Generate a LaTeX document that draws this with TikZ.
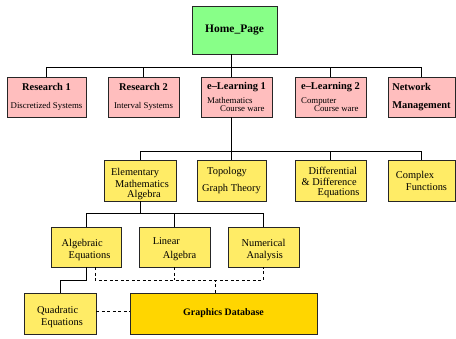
\documentclass[tikz,border=0pt]{standalone}
\usepackage{fontspec}
\setmainfont{Liberation Serif}
\definecolor{homegreen}{RGB}{136,255,136}
\definecolor{respink}{RGB}{255,190,190}
\definecolor{topicyellow}{RGB}{255,236,102}
\definecolor{dbgold}{RGB}{255,214,0}
\tikzset{
  boxnode/.style = {rectangle, draw=black!85, line width=0.8pt, inner sep=0pt, align=left},
  % root node: green box
  box_H/.style = {boxnode, fill=homegreen, minimum width=85pt, minimum height=48pt, font=\fontsize{11.5}{13}\selectfont\bfseries},
  box_R/.style = {boxnode, fill=respink, minimum height=40pt, font=\fontsize{8.8}{9.5}\selectfont},
  box_Y/.style = {boxnode, fill=topicyellow, minimum height=41pt, font=\fontsize{10.4}{12}\selectfont},
  box_D/.style = {boxnode, fill=dbgold, minimum height=41pt, font=\fontsize{9.9}{12}\selectfont\bfseries},
  conn/.style = {draw=black, line width=0.8pt},
  dash_link/.style = {conn, dash pattern=on 3pt off 2.5pt}
}
\newcommand{\ttl}[1]{{\fontsize{10.4}{12}\selectfont\bfseries #1}}
% strut that pushes the text of a box down
\newcommand{\lowby}[1]{\rule{0pt}{#1}}

\begin{document}
\begin{tikzpicture}[x=1pt,y=-1pt]
    \useasboundingbox (0,0) rectangle (456,339);
    % Root node:
    \node [box_H] (home) at (234.5,30) {Home\_Page};
    % Layer 1 - research and e-learning:
    \node [box_R, minimum width=79pt, align=center] (res1) at (46.5,97) {\ttl{Research 1}\\[9pt]Discretized Systems};
    \node [box_R, minimum width=71pt, align=center] (res2) at (143.5,97) {\ttl{Research 2}\\[9pt]Interval Systems};
    \node [box_R, minimum width=71pt] (el1) at (236.5,97) {\ttl{e--Learning 1}\\[4pt]Mathematics\\[-1pt]\hspace*{13pt}Course ware};
    \node [box_R, minimum width=71pt] (el2) at (330.5,97) {\ttl{e--Learning 2}\\[4pt]Computer\\[-1pt]\hspace*{13pt}Course ware};
    \node [box_R, minimum width=67pt] (net) at (421.5,97) {\ttl{Network}\\[8pt]\ttl{Management}};
    % Layer 2 - topics:
    \node [box_Y, minimum width=72pt] (elem) at (140,180.5) {\lowby{14pt}Elementary\\[0pt]\hspace*{4pt}Mathematics\\[-2pt]\hspace*{16pt}Algebra};
    \node [box_Y, minimum width=69pt] (topo) at (231.5,180.5) {\hspace*{5pt}Topology\\[5pt]Graph Theory};
    \node [box_Y, minimum width=71pt] (diff) at (330.5,180.5) {\lowby{11.5pt}\hspace*{7pt}Differential\\[-1pt]\& Difference\\[-2pt]\hspace*{16pt}Equations};
    \node [box_Y, minimum width=67pt] (cplx) at (421.5,180.5) {Complex\\\hspace*{10pt}Functions};
    % Layer 3 - algebra:
    \node [box_Y, minimum width=70pt, minimum height=40pt] (alg) at (86,247) {\lowby{13pt}Algebraic\\\hspace*{7pt}Equations};
    \node [box_Y, minimum width=71pt, minimum height=40pt] (lin) at (174.5,247) {\lowby{12pt}Linear\\[2pt]\hspace*{10pt}Algebra};
    \node [box_Y, minimum width=71pt, minimum height=40pt] (num) at (263.5,247) {\lowby{13pt}Numerical\\\hspace*{5pt}Analysis};
    % Layer 4 - equations and database:
    \node [box_Y, minimum width=72pt] (quad) at (60,313.5) {\lowby{14pt}Quadratic\\\hspace*{4pt}Equations};
    \node [box_D, minimum width=187pt] (gfx) at (223.5,313.5) {Graphics Database};

    % tree lines
    \coordinate (bus1) at (0,67);
    \coordinate (bus2) at (0,151);
    \coordinate (bus3) at (0,213);
    \coordinate (bus4) at (0,280);
    \draw [conn] (res1.north) |- (net.north |- bus1) -- (net.north);
    \draw [conn] (home.south -| topo.north) -- (el1.north -| topo.north);
    \foreach \n in {res2,el2}
        \draw [conn] (\n.north) -- (\n.north |- bus1);
    \draw [conn] (elem.north) |- (cplx.north |- bus2) -- (cplx.north);
    \draw [conn] (el1.south -| topo.north) -- (topo.north);
    \draw [conn] (diff.north) -- (diff.north |- bus2);
    \draw [conn] (alg.north) |- (num.north |- bus3) -- (num.north);
    \draw [conn] (elem.south) -- (elem.south |- bus3);
    \draw [conn] (lin.north) -- (lin.north |- bus3);
    \draw [conn] (alg.south) |- (quad.north |- bus4) -- (quad.north);
    % links to the database
    \draw [dash_link] ([xshift=9pt]alg.south) |- (num.south |- bus4) -- (num.south);
    \draw [dash_link] (lin.south) -- (lin.south |- bus4);
    \draw [dash_link] ([xshift=-8.5pt]gfx.north) -- ([xshift=-8.5pt]gfx.north |- bus4);
    \draw [dash_link] ([yshift=2.5pt]quad.east) -- ([yshift=2.5pt]gfx.west);
\end{tikzpicture}
\end{document}
